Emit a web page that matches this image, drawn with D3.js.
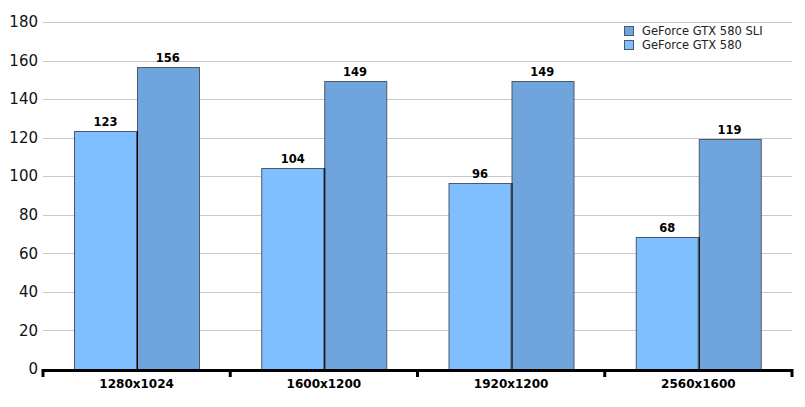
<!DOCTYPE html>
<html><head><meta charset="utf-8">
<script src="https://cdn.jsdelivr.net/npm/d3@7"></script>
<style>body{margin:0;background:#fff}svg{display:block}</style>
</head><body>
<script>
const categories = ["1280x1024","1600x1200","1920x1200","2560x1600"];
const seriesNames = ["GeForce GTX 580","GeForce GTX 580 SLI"];
const single = [123,104,96,68];
const sli = [156,149,149,119];
const yTicks = [0,20,40,60,80,100,120,140,160,180];
const colors = ["#80bfff","#6fa5dc"];

const W=805,H=407, L=43, R=792, T=22, B=369;
const svg=d3.select("body").append("svg").attr("width",W).attr("height",H);
const font="Verdana, 'DejaVu Sans', sans-serif";
const x=d3.scaleBand().domain(categories).range([L,R]);
const xi=d3.scaleBand().domain(seriesNames).range([0,x.bandwidth()]).paddingOuter(0.5).paddingInner(0);
const y=d3.scaleLinear().domain([0,180]).range([B,T]);

svg.append("g").selectAll("line").data(yTicks.filter(d=>d>0)).join("line")
 .attr("x1",L).attr("x2",R).attr("y1",d=>Math.round(y(d))+0.5).attr("y2",d=>Math.round(y(d))+0.5)
 .attr("stroke","#c8c8c8").attr("stroke-width",1);
svg.append("g").selectAll("text").data(yTicks).join("text")
 .attr("x",38).attr("y",d=>y(d)).attr("dy","0.35em").attr("text-anchor","end")
 .attr("font-family",font).attr("font-size",15).attr("fill","#111").text(d=>d);

const data=categories.map((c,i)=>({c,vals:[{s:seriesNames[0],v:single[i],k:0},{s:seriesNames[1],v:sli[i],k:1}]}));
const g=svg.append("g").selectAll("g").data(data).join("g").attr("transform",d=>`translate(${x(d.c)},0)`);
g.selectAll("rect").data(d=>d.vals).join("rect")
 .attr("x",d=>Math.round(xi(d.s))+0.5).attr("y",d=>Math.round(y(d.v))-0.5)
 .attr("width",d=>Math.round(xi.bandwidth())).attr("height",d=>B-Math.round(y(d.v))+1)
 .attr("fill",d=>colors[d.k]).attr("stroke","#4a5a6a").attr("stroke-width",1);
g.append("line").attr("x1",d=>Math.round(xi(seriesNames[1]))+0.5).attr("x2",d=>Math.round(xi(seriesNames[1]))+0.5)
 .attr("y1",d=>Math.round(y(Math.min(...d.vals.map(v=>v.v))))-1).attr("y2",B).attr("stroke","#000");
g.selectAll("text").data(d=>d.vals).join("text")
 .attr("x",d=>xi(d.s)+xi.bandwidth()/2).attr("y",d=>y(d.v)-6)
 .attr("text-anchor","middle").attr("font-family",font).attr("font-weight","bold").attr("font-size",11.5).text(d=>d.v);

svg.append("line").attr("x1",L-1).attr("x2",R+1).attr("y1",B+1.5).attr("y2",B+1.5).attr("stroke","#000").attr("stroke-width",3);
const tickPos=categories.map(c=>x(c)).concat([R]);
svg.append("g").selectAll("line").data(tickPos).join("line")
 .attr("x1",d=>d).attr("x2",d=>d).attr("y1",B).attr("y2",B+8).attr("stroke","#000").attr("stroke-width",3);
svg.append("g").selectAll("text").data(categories).join("text")
 .attr("x",d=>x(d)+x.bandwidth()/2).attr("y",388).attr("text-anchor","middle")
 .attr("font-family",font).attr("font-weight","bold").attr("font-size",12).text(d=>d);

const leg=[{n:seriesNames[1],c:colors[1]},{n:seriesNames[0],c:colors[0]}];
const lg=svg.append("g").selectAll("g").data(leg).join("g").attr("transform",(d,i)=>`translate(624,${26+i*14})`);
lg.append("rect").attr("x",0.5).attr("y",0.5).attr("width",9).attr("height",9).attr("fill",d=>d.c).attr("stroke","#4a5a6a");
lg.append("text").attr("x",18).attr("y",5).attr("dy","0.35em").attr("font-family",font).attr("font-size",11.5).attr("fill","#222").text(d=>d.n);
</script>
</body></html>
